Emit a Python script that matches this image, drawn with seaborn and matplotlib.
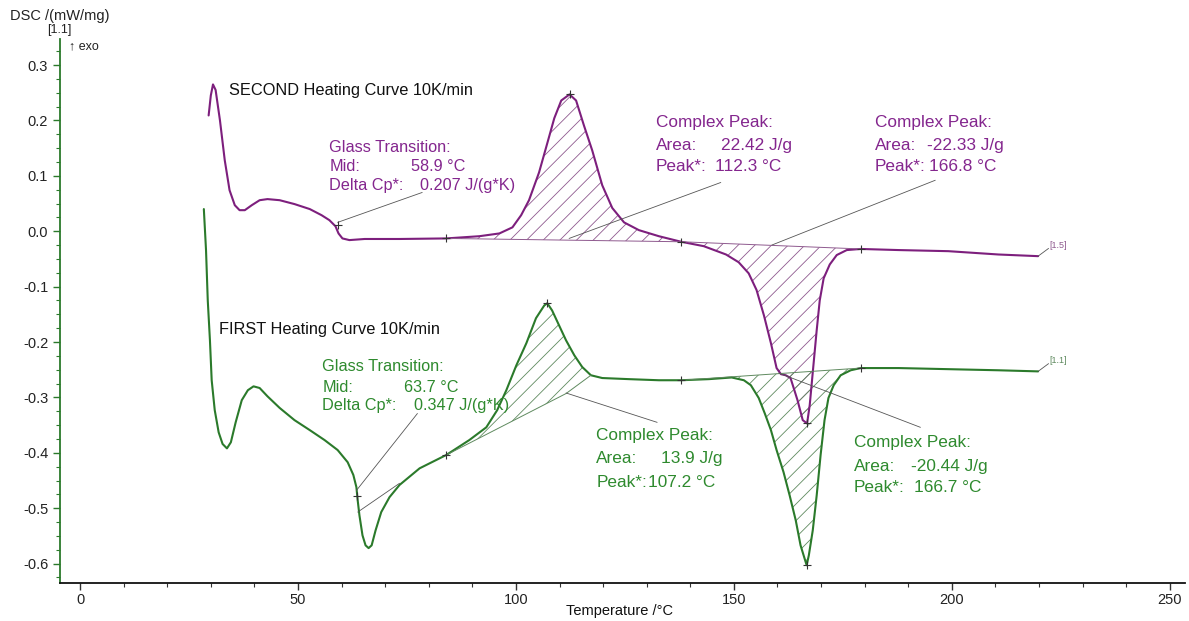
import numpy as np
import pandas as pd
import matplotlib
matplotlib.use("Agg")
import matplotlib.pyplot as plt
import seaborn as sns

# ---------------- data ----------------
second_T = [29.5, 30.0, 30.5, 31.1, 32.1, 33.2, 34.3, 35.5, 36.6, 37.8, 39.4, 41.2, 43.0, 45.8,
            49.2, 52.7, 55.4, 57.2, 58.6, 59.3, 60.2, 61.8, 65.3, 73.3, 84.0, 91.6, 96.2, 99.2,
            101.2, 103.0, 105.3, 107.2, 108.8, 110.4, 112.3, 113.8, 115.6, 117.5, 119.8, 122.1,
            124.8, 128.2, 132.8, 137.9, 143.1, 148.2, 151.1, 153.4, 155.2, 156.9, 158.5, 159.8,
            160.8, 161.9, 163.0, 164.6, 165.8, 166.8, 167.4, 168.3, 169.0, 169.7, 170.6, 172.0,
            173.6, 175.9, 179.1, 187.8, 199.2, 210.7, 219.8]
second_dsc = [0.209, 0.245, 0.265, 0.255, 0.200, 0.128, 0.074, 0.047, 0.038, 0.038, 0.047, 0.056,
              0.058, 0.056, 0.049, 0.040, 0.029, 0.020, 0.009, -0.004, -0.013, -0.016, -0.014,
              -0.014, -0.013, -0.009, -0.004, 0.007, 0.029, 0.056, 0.106, 0.159, 0.204, 0.236,
              0.247, 0.236, 0.191, 0.146, 0.083, 0.042, 0.016, 0.002, -0.009, -0.019, -0.027,
              -0.042, -0.056, -0.076, -0.106, -0.152, -0.202, -0.247, -0.258, -0.260, -0.265,
              -0.305, -0.341, -0.347, -0.314, -0.238, -0.179, -0.125, -0.085, -0.060, -0.043,
              -0.034, -0.032, -0.034, -0.036, -0.042, -0.045]

first_T = [28.4, 28.9, 29.3, 29.8, 30.2, 30.9, 31.8, 32.7, 33.7, 34.6, 35.7, 37.1, 38.5, 39.8,
           41.2, 43.0, 45.8, 49.2, 52.7, 56.1, 59.1, 61.4, 62.7, 63.4, 63.7, 64.1, 64.8, 65.5,
           66.2, 66.9, 67.8, 69.1, 71.0, 73.3, 77.9, 84.0, 89.3, 93.2, 95.7, 97.8, 100.1, 102.4,
           104.6, 106.5, 107.2, 108.3, 109.9, 111.5, 113.4, 115.2, 117.2, 119.8, 125.9, 132.8,
           137.9, 144.3, 149.5, 152.3, 153.9, 155.7, 157.1, 158.5, 159.8, 161.4, 162.8, 164.2,
           165.3, 166.7, 167.2, 168.1, 169.0, 169.9, 170.8, 171.7, 172.9, 174.5, 176.8, 179.1,
           187.8, 199.2, 210.7, 219.8]
first_dsc = [0.040, -0.034, -0.125, -0.197, -0.269, -0.323, -0.363, -0.384, -0.392, -0.381,
             -0.345, -0.305, -0.287, -0.280, -0.283, -0.298, -0.319, -0.341, -0.359, -0.377,
             -0.395, -0.417, -0.440, -0.462, -0.486, -0.513, -0.549, -0.567, -0.572, -0.567,
             -0.540, -0.507, -0.480, -0.458, -0.428, -0.404, -0.377, -0.354, -0.323, -0.287,
             -0.242, -0.202, -0.157, -0.134, -0.130, -0.143, -0.170, -0.197, -0.224, -0.245,
             -0.260, -0.265, -0.267, -0.269, -0.269, -0.267, -0.264, -0.269, -0.278, -0.301,
             -0.329, -0.359, -0.395, -0.435, -0.477, -0.522, -0.567, -0.603, -0.585, -0.540,
             -0.477, -0.404, -0.341, -0.301, -0.278, -0.260, -0.251, -0.247, -0.247, -0.249,
             -0.251, -0.253]

# integration baselines of the four complex peaks (T, DSC)
second_exo_base_T = [84.0, 137.9]
second_exo_base = [-0.013, -0.019]
second_endo_base_T = [137.9, 179.1]
second_endo_base = [-0.019, -0.032]
first_exo_base_T = [84.0, 111.5, 117.2]
first_exo_base = [-0.404, -0.293, -0.260]
first_endo_base_T = [137.9, 179.1]
first_endo_base = [-0.269, -0.247]

# evaluation marks (+)
second_marks_T = [59.1, 84.0, 112.3, 137.9, 166.8, 179.1]
second_marks = [0.012, -0.013, 0.247, -0.019, -0.347, -0.032]
first_marks_T = [63.5, 84.0, 107.2, 137.9, 166.7, 179.1]
first_marks = [-0.478, -0.404, -0.130, -0.269, -0.603, -0.247]

x_ticks = [0, 50, 100, 150, 200, 250]
y_ticks = [-0.6, -0.5, -0.4, -0.3, -0.2, -0.1, 0.0, 0.1, 0.2, 0.3]

# ---------------- styling ----------------
PURPLE = "#7d1f7d"
PURPLE_TXT = "#84268e"
PURPLE_HATCH = "#8f5a8f"
GREEN = "#2b7a2b"
GREEN_TXT = "#2e8a2e"
GREEN_HATCH = "#5f8a5f"
LEADER = "#555555"

sns.set_style("ticks")
plt.rcParams["font.family"] = ["Liberation Sans", "DejaVu Sans"]
plt.rcParams["axes.unicode_minus"] = False
plt.rcParams["hatch.linewidth"] = 0.6

PEAK_SIZE = 12.4

fig = plt.figure(figsize=(11.89, 6.21), dpi=100)
ax = fig.add_axes([60 / 1189, 38 / 621, 1125 / 1189, 544 / 621])

# curves
sns.lineplot(x=second_T, y=second_dsc, sort=False, estimator=None, color=PURPLE, lw=1.5, ax=ax)
sns.lineplot(x=first_T, y=first_dsc, sort=False, estimator=None, color=GREEN, lw=1.5, ax=ax)


def hatch_area(cT, cY, bT, bY, color):
    cT = np.asarray(cT)
    cY = np.asarray(cY)
    m = (cT >= bT[0]) & (cT <= bT[-1])
    px = list(cT[m]) + list(bT[::-1])
    py = list(cY[m]) + list(bY[::-1])
    ax.fill(px, py, facecolor="none", edgecolor=color, hatch="//", lw=0)
    ax.plot(bT, bY, color=color, lw=0.7)


hatch_area(second_T, second_dsc, second_exo_base_T, second_exo_base, PURPLE_HATCH)
hatch_area(second_T, second_dsc, second_endo_base_T, second_endo_base, PURPLE_HATCH)
hatch_area(first_T, first_dsc, first_exo_base_T, first_exo_base, GREEN_HATCH)
hatch_area(first_T, first_dsc, first_endo_base_T, first_endo_base, GREEN_HATCH)

# marks
sns.scatterplot(x=second_marks_T, y=second_marks, marker="+", s=30, color="#333333",
                linewidth=0.8, ax=ax, zorder=5)
sns.scatterplot(x=first_marks_T, y=first_marks, marker="+", s=30, color="#333333",
                linewidth=0.8, ax=ax, zorder=5)

# leader lines for the evaluation results
leaders = [
    ((59.1, 78.5), (0.016, 0.070)),
    ((112.2, 147.0), (-0.013, 0.088)),
    ((158.7, 196.2), (-0.025, 0.092)),
    ((63.4, 77.4), (-0.468, -0.329)),
    ((63.7, 73.3), (-0.507, -0.455)),
    ((111.5, 132.4), (-0.292, -0.345)),
    ((160.3, 192.8), (-0.256, -0.354)),
    ((219.8, 222.2), (-0.045, -0.031)),
    ((219.8, 222.2), (-0.253, -0.239)),
]
for lx, ly in leaders:
    ax.plot(lx, ly, color=LEADER, lw=0.6)

# curve titles
ax.text(34.1, 0.254, "SECOND Heating Curve 10K/min", fontsize=11.8, color="#111111", va="center")
ax.text(31.8, -0.177, "FIRST Heating Curve 10K/min", fontsize=11.8, color="#111111", va="center")


# glass transition blocks
def gt_block(x0, xm, xd, ys, mid, dcp, color):
    ax.text(x0, ys[0], "Glass Transition:", fontsize=11.7, color=color, va="center")
    ax.text(x0, ys[1], "Mid:", fontsize=11.7, color=color, va="center")
    ax.text(xm, ys[1], mid, fontsize=11.7, color=color, va="center")
    ax.text(x0, ys[2], "Delta Cp*:", fontsize=11.7, color=color, va="center")
    ax.text(xd, ys[2], dcp, fontsize=11.7, color=color, va="center")


gt_block(57.2, 76.0, 78.1, (0.152, 0.117, 0.083), "58.9 °C", "0.207 J/(g*K)", PURPLE_TXT)
gt_block(55.6, 74.4, 76.7, (-0.245, -0.282, -0.314), "63.7 °C", "0.347 J/(g*K)", GREEN_TXT)


def peak_block(x0, xa, xp, ys, area, peak, color):
    kw = dict(fontsize=PEAK_SIZE, color=color, va="center")
    ax.text(x0, ys[0], "Complex Peak:", **kw)
    ax.text(x0, ys[1], "Area:", **kw)
    ax.text(xa, ys[1], area, **kw)
    ax.text(x0, ys[2], "Peak*:", **kw)
    ax.text(xp, ys[2], peak, **kw)


peak_block(132.1, 147.0, 145.6, (0.197, 0.154, 0.116), "22.42 J/g", "112.3 °C", PURPLE_TXT)
peak_block(182.3, 194.2, 194.8, (0.197, 0.154, 0.116), "-22.33 J/g", "166.8 °C", PURPLE_TXT)
peak_block(118.4, 133.3, 130.2, (-0.368, -0.411, -0.453), "13.9 J/g", "107.2 °C", GREEN_TXT)
peak_block(177.5, 190.7, 191.3, (-0.381, -0.424, -0.462), "-20.44 J/g", "166.7 °C", GREEN_TXT)

# segment labels at curve ends
ax.text(222.4, -0.026, "[1.5]", fontsize=6.5, color=PURPLE_HATCH, va="center")
ax.text(222.4, -0.234, "[1.1]", fontsize=6.5, color=GREEN_HATCH, va="center")

# axes
ax.set_xlim(-4.6, 253.5)
ax.set_ylim(-0.635, 0.347)
ax.set_xticks(x_ticks)
ax.set_xticklabels([str(v) for v in x_ticks])
ax.set_yticks(y_ticks)
ax.set_yticklabels([f"{v:.1f}" for v in y_ticks])
ax.set_xticks(np.arange(0, 251, 10), minor=True)
ax.set_yticks(np.arange(-0.625, 0.34, 0.025), minor=True)
ax.tick_params(axis="both", which="major", labelsize=10.5, length=5, width=1, colors="#333333",
               labelcolor="#222222")
ax.tick_params(axis="x", which="major", pad=2)
ax.tick_params(axis="both", which="minor", length=3, width=0.8, colors="#333333")
ax.tick_params(axis="y", which="both", colors=GREEN, labelcolor="#222222")
ax.set_xlabel("")
ax.set_ylabel("")
for s in ("top", "right"):
    ax.spines[s].set_visible(False)
ax.spines["left"].set_color(GREEN)
ax.spines["left"].set_linewidth(1.3)
ax.spines["bottom"].set_color("#111111")
ax.spines["bottom"].set_linewidth(1.3)

# axis titles / header labels
fig.text(620 / 1189, 1 - 611 / 621, "Temperature /°C", fontsize=10.5, color="#111111",
         ha="center", va="center")
fig.text(10 / 1189, 1 - 16 / 621, "DSC /(mW/mg)", fontsize=10.5, color="#222222", va="center")
fig.text(47 / 1189, 1 - 30 / 621, "[1.1]", fontsize=9, color="#222222", va="center")
fig.text(69 / 1189, 1 - 46 / 621, "↑ exo", fontsize=9, color="#222222", va="center")

fig.savefig("out.png", dpi=100)
